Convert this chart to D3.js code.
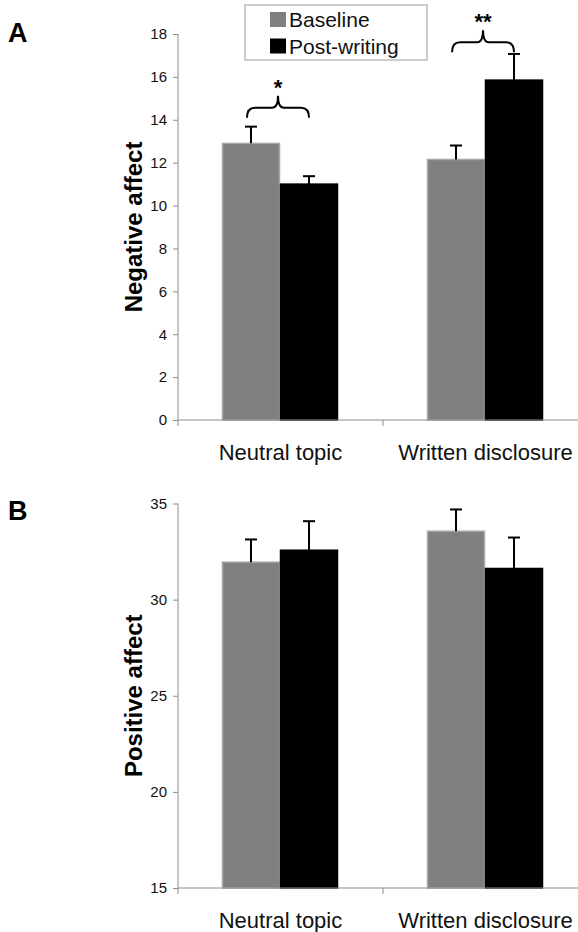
<!DOCTYPE html>
<html>
<head>
<meta charset="utf-8">
<script src="https://cdn.jsdelivr.net/npm/d3@7"></script>
<style>
  body { margin: 0; background: #fff; }
  svg { font-family: "Liberation Sans", Arial, sans-serif; display: block; }
</style>
</head>
<body>
<script>
// data
var categories = ['Neutral topic', 'Written disclosure'];
var series = ['Baseline', 'Post-writing'];

var negBaseline = [12.9, 12.15];
var negPost = [11.0, 15.85];
var negBaseErr = [0.78, 0.65];
var negPostErr = [0.37, 1.22];

var posBaseline = [31.95, 33.56];
var posPost = [32.57, 31.62];
var posBaseErr = [1.18, 1.13];
var posPostErr = [1.51, 1.61];

var negTicks = [0, 2, 4, 6, 8, 10, 12, 14, 16, 18];
var posTicks = [15, 20, 25, 30, 35];

// significance braces (top panel only)
var sigMarks = ['*', '**'];
var sigLevel = [14.1, 17.15];

var colors = {'Baseline': '#808080', 'Post-writing': '#000000'};
var borders = {'Baseline': '#a8a8a8', 'Post-writing': '#000000'};

var W = 578, H = 932;
var axisX = 178;

var svg = d3.select('body').append('svg')
            .attr('width', W)
            .attr('height', H);

var xScale = d3.scaleBand().domain(categories).range([axisX, 588]).padding(0);
var subScale = d3.scaleBand().domain(series).range([44, 160]).padding(0);

function drawPanel(opts) {
  var yScale = d3.scaleLinear().domain(opts.domain).range(opts.range);
  var g = svg.append('g');

  var rows = [];
  categories.forEach(function(c, i) {
    rows.push({cat: c, s: 'Baseline', v: opts.base[i], e: opts.baseErr[i]});
    rows.push({cat: c, s: 'Post-writing', v: opts.post[i], e: opts.postErr[i]});
  });

  // bars
  g.selectAll('rect.bar')
   .data(rows)
   .enter()
   .append('rect')
   .attr('class', 'bar')
   .attr('x', function(d) { return xScale(d.cat) + subScale(d.s) + 0.5; })
   .attr('width', subScale.bandwidth() - 1)
   .attr('y', function(d) { return yScale(d.v); })
   .attr('height', function(d) { return yScale(opts.domain[0]) - yScale(d.v); })
   .attr('fill', function(d) { return colors[d.s]; })
   .attr('stroke', function(d) { return borders[d.s]; })
   .attr('stroke-width', 1.5);

  // error bars (upper only)
  var err = g.selectAll('g.err')
             .data(rows)
             .enter()
             .append('g')
             .attr('class', 'err')
             .attr('transform', function(d) {
               return 'translate(' + (xScale(d.cat) + subScale(d.s) + subScale.bandwidth() / 2) + ',0)';
             });
  err.append('line')
     .attr('x1', 0).attr('x2', 0)
     .attr('y1', function(d) { return yScale(d.v); })
     .attr('y2', function(d) { return yScale(d.v + d.e); })
     .attr('stroke', '#000')
     .attr('stroke-width', 2);
  err.append('line')
     .attr('x1', -6).attr('x2', 6)
     .attr('y1', function(d) { return yScale(d.v + d.e); })
     .attr('y2', function(d) { return yScale(d.v + d.e); })
     .attr('stroke', '#000')
     .attr('stroke-width', 2);

  // y axis
  var yAxis = d3.axisLeft(yScale)
                .tickValues(opts.ticks)
                .tickSizeInner(5)
                .tickSizeOuter(0)
                .tickPadding(6);
  var ya = g.append('g')
            .attr('transform', 'translate(' + axisX + ',0)')
            .call(yAxis);
  ya.select('.domain').attr('stroke', '#8c8c8c')
    .attr('d', 'M0,' + (yScale(opts.domain[0]) + 6) + 'V' + yScale(opts.domain[1]));
  ya.selectAll('.tick line').attr('stroke', '#8c8c8c');
  ya.selectAll('.tick text')
    .attr('font-size', 15)
    .attr('font-family', '"Liberation Sans", Arial, sans-serif')
    .attr('fill', '#111');

  // x axis
  var base = yScale(opts.domain[0]);
  g.append('line')
   .attr('x1', axisX).attr('x2', W)
   .attr('y1', base).attr('y2', base)
   .attr('stroke', '#8c8c8c');
  g.selectAll('line.xtick')
   .data(categories.slice(1))
   .enter()
   .append('line')
   .attr('class', 'xtick')
   .attr('x1', function(d) { return xScale(d); })
   .attr('x2', function(d) { return xScale(d); })
   .attr('y1', base).attr('y2', base + 6)
   .attr('stroke', '#8c8c8c');
  g.selectAll('text.cat')
   .data(categories)
   .enter()
   .append('text')
   .attr('class', 'cat')
   .attr('x', function(d) { return xScale(d) + xScale.bandwidth() / 2; })
   .attr('y', base + 40)
   .attr('text-anchor', 'middle')
   .attr('font-size', 22)
   .attr('fill', '#111')
   .text(function(d) { return d; });

  // y label
  var mid = (opts.range[0] + opts.range[1]) / 2;
  g.append('text')
   .attr('transform', 'translate(142,' + mid + ')rotate(-90)')
   .attr('text-anchor', 'middle')
   .attr('font-size', 24)
   .attr('font-weight', 'bold')
   .text(opts.label);

  // panel letter
  g.append('text')
   .attr('x', 8)
   .attr('y', opts.letterY)
   .attr('font-size', 27)
   .attr('font-weight', 'bold')
   .text(opts.letter);

  return yScale;
}

var yNeg = drawPanel({
  domain: [0, 18], range: [420, 34], ticks: negTicks,
  base: negBaseline, post: negPost, baseErr: negBaseErr, postErr: negPostErr,
  label: 'Negative affect', letter: 'A', letterY: 42
});

drawPanel({
  domain: [15, 35], range: [888, 503.5], ticks: posTicks,
  base: posBaseline, post: posPost, baseErr: posBaseErr, postErr: posPostErr,
  label: 'Positive affect', letter: 'B', letterY: 520
});

// curly braces with stars
function bracePath(x1, x2, y0) {
  var xm = (x1 + x2) / 2, yh = y0 - 10, yp = y0 - 22;
  return 'M' + x1 + ',' + y0 +
         'Q' + x1 + ',' + yh + ' ' + (x1 + 8) + ',' + yh +
         'L' + (xm - 6) + ',' + yh +
         'Q' + xm + ',' + yh + ' ' + xm + ',' + yp +
         'Q' + xm + ',' + yh + ' ' + (xm + 6) + ',' + yh +
         'L' + (x2 - 8) + ',' + yh +
         'Q' + x2 + ',' + yh + ' ' + x2 + ',' + y0;
}

categories.forEach(function(c, i) {
  var x1 = xScale(c) + subScale('Baseline') + subScale.bandwidth() / 2 - 4;
  var x2 = xScale(c) + subScale('Post-writing') + subScale.bandwidth() / 2;
  var y0 = yNeg(sigLevel[i]);
  svg.append('path')
     .attr('d', bracePath(x1, x2, y0))
     .attr('fill', 'none')
     .attr('stroke', '#000')
     .attr('stroke-width', 2);
  svg.append('text')
     .attr('x', (x1 + x2) / 2)
     .attr('y', y0 - 23)
     .attr('text-anchor', 'middle')
     .attr('font-size', 22)
     .attr('font-weight', 'bold')
     .text(sigMarks[i]);
});

// legend
var legend = svg.append('g').attr('transform', 'translate(245,5)');
legend.append('rect')
      .attr('width', 182).attr('height', 55)
      .attr('fill', '#fff')
      .attr('stroke', '#999');
series.forEach(function(s, i) {
  legend.append('rect')
        .attr('x', 25).attr('y', 7 + i * 26.5)
        .attr('width', 16).attr('height', 15)
        .attr('fill', colors[s]);
  legend.append('text')
        .attr('x', 44).attr('y', 22 + i * 26.5)
        .attr('font-size', 21)
        .attr('fill', '#111')
        .text(s);
});
</script>
</body>
</html>
